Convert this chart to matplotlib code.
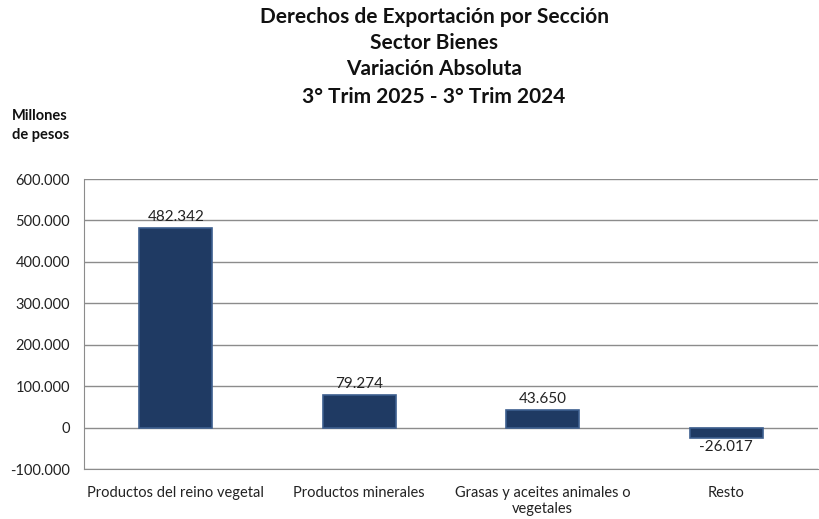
import numpy as np
import matplotlib.pyplot as plt
from matplotlib.ticker import FuncFormatter

categorias = ['Productos del reino vegetal', 'Productos minerales',
              'Grasas y aceites animales o\nvegetales', 'Resto']
variacion = [482342, 79274, 43650, -26017]

titulo = ['Derechos de Exportación por Sección', 'Sector Bienes',
          'Variación Absoluta', '3° Trim 2025 - 3° Trim 2024']

plt.rcParams['font.family'] = ['Lato', 'DejaVu Sans']


def miles(v, pos=None):
    s = f'{abs(v):,.0f}'.replace(',', '.')
    return ('-' if v < 0 else '') + s


fig = plt.figure(figsize=(8.19, 5.19), dpi=100)
ax = fig.add_axes([0.1026, 0.0963, 0.8962, 0.5587])

x = np.arange(len(categorias))
bars = ax.bar(x, variacion, width=0.4, color='#1f3a63', edgecolor='#3d5f8f',
              linewidth=1.2, zorder=3)

for b, v in zip(bars, variacion):
    if v >= 0:
        ax.text(b.get_x() + b.get_width() / 2, v + 9000, miles(v),
                ha='center', va='bottom', fontsize=11, color='#222222')
    else:
        ax.text(b.get_x() + b.get_width() / 2, v - 3000, miles(v),
                ha='center', va='top', fontsize=11, color='#222222')

ax.set_ylim(-100000, 600000)
ax.set_xlim(-0.5, len(categorias) - 0.5)
ax.set_yticks(np.arange(-100000, 600001, 100000))
ax.yaxis.set_major_formatter(FuncFormatter(miles))
ax.set_xticks(x)
ax.set_xticklabels(categorias, fontsize=10.5, color='#222222')
ax.tick_params(axis='y', labelsize=10.5, colors='#222222', length=0, pad=10)
ax.tick_params(axis='x', length=0, pad=12)
ax.grid(axis='y', color='#8c8c8c', linewidth=1, zorder=0)
for side in ['top', 'right']:
    ax.spines[side].set_visible(False)
for side in ['left', 'bottom']:
    ax.spines[side].set_color('#8c8c8c')

ys = [0.967, 0.917, 0.867, 0.813]
for t, yy in zip(titulo, ys):
    fig.text(0.530, yy, t, ha='center', va='center', fontsize=15,
             fontweight='bold', color='#111111')

fig.text(0.015, 0.758, 'Millones\nde pesos', ha='left', va='center',
         fontsize=10.5, fontweight='bold', linespacing=1.5, color='#111111')

fig.savefig('out.png', dpi=100)
